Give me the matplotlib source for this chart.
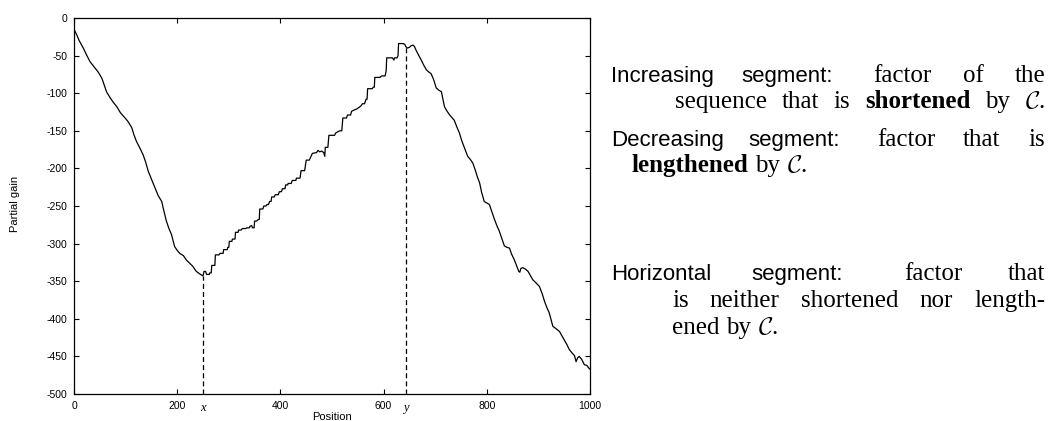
#!/usr/bin/env python3
# -*- coding: utf-8 -*-
"""
Partial gain 曲线 + 右侧说明文字
"""

import numpy as np
import matplotlib
matplotlib.use("Agg")
import matplotlib.pyplot as plt

W, H = 1050, 421

# 曲线数据
pos = [0, 5, 10, 18, 25, 31, 40, 47, 54, 58, 63, 70, 76, 83, 90, 99, 105, 112,
       116, 121, 127, 134, 139, 144, 150, 157, 163, 170, 174, 179, 184, 189,
       192, 195, 200, 205, 212, 218, 224, 230, 237, 243, 250,
       252, 255, 257, 262, 263, 266, 267, 273, 274, 281, 283, 289, 290, 297,
       298, 300, 301, 306, 307, 312, 313, 318, 319, 324, 326, 333, 335, 340,
       341, 344, 346, 349, 350, 354, 357, 359, 360, 366, 368, 372, 374, 377,
       379, 382, 383, 388, 390, 396, 398, 402, 404, 409, 410, 414, 415, 421,
       423, 430, 431, 438, 440, 447, 450, 456, 462, 470, 473, 476, 480, 484,
       486, 487, 492, 494, 505, 507, 512, 515, 519, 521, 528, 530, 536, 538,
       544, 548, 552, 556, 559, 563, 566, 568, 569, 578, 580, 582, 583, 593,
       596, 603, 605, 606, 617, 620, 621, 626, 628, 629, 638,
       641, 643, 646, 650, 653, 657, 660, 663, 666, 670, 673, 678, 683, 688,
       692, 697, 702, 707, 712, 715, 718, 723, 728, 733, 737, 742, 747, 750,
       753, 758, 763, 768, 773, 778, 782, 786, 790, 795, 800, 805, 810, 815,
       820, 824, 829, 834, 839, 844, 848, 853, 858, 862, 864, 866, 870, 875,
       880, 885, 889, 895, 902, 907, 912, 917, 921, 925, 928, 934, 941, 945,
       950, 955, 960, 966, 970, 973, 976, 979, 984, 989, 994, 997, 1000]
gain = [-15, -22, -30, -40, -50, -58, -66, -72, -80, -88, -98, -106, -112, -118,
        -126, -133, -138, -146, -155, -164, -172, -182, -192, -204, -214, -226,
        -236, -244, -256, -270, -280, -288, -296, -304, -309, -313, -316, -322,
        -326, -330, -337, -340, -343,
        -337, -337, -341, -341, -339, -339, -329, -329, -315, -315, -313, -313,
        -308, -308, -305, -305, -297, -297, -294, -294, -285, -285, -282, -282,
        -280, -280, -279, -279, -277, -276, -279, -279, -270, -270, -268, -268,
        -254, -254, -250, -250, -248, -248, -244, -244, -238, -238, -235, -235,
        -231, -231, -227, -227, -222, -222, -220, -220, -216, -216, -213, -213,
        -203, -203, -189, -189, -180, -179, -176, -178, -177, -179, -184, -172,
        -172, -156, -156, -153, -151, -150, -150, -133, -133, -129, -129, -124,
        -122, -121, -119, -117, -114, -114, -108, -108, -94, -94, -92, -92, -79,
        -79, -77, -77, -70, -53, -53, -56, -53, -53, -50, -34, -34,
        -35, -38, -40, -39, -37, -36, -38, -43, -47, -52, -56, -63, -69, -72,
        -74, -82, -93, -96, -98, -108, -118, -124, -129, -133, -136, -145, -153,
        -160, -166, -175, -184, -188, -193, -203, -212, -219, -232, -244, -246,
        -248, -258, -268, -277, -283, -293, -303, -305, -306, -314, -321, -330,
        -337, -338, -333, -332, -334, -337, -343, -348, -352, -357, -366, -377,
        -386, -392, -402, -410, -413, -417, -422, -428, -434, -441, -446, -449,
        -457, -452, -450, -454, -461, -462, -465, -467]

x_ticks = [0, 200, 400, 600, 800, 1000]
y_ticks = list(range(-500, 1, 50))
marks = [("x", 250), ("y", 643)]

plt.rcParams["mathtext.fontset"] = "cm"
plt.rcParams["axes.unicode_minus"] = False

fig = plt.figure(figsize=(W / 100, H / 100), dpi=100)
ax = fig.add_axes([74 / W, 1 - 394 / H, (590 - 74) / W, (394 - 18) / H])

ax.plot(pos, gain, color="black", lw=0.9)

# x, y 位置的竖虚线
for name, xm in marks:
    ym = np.interp(xm, pos, gain)
    ax.plot([xm, xm], [-500, ym], color="black", lw=0.9, ls=(0, (4, 2.5)))
    ax.text(xm, -0.022, name, transform=ax.get_xaxis_transform(),
            ha="center", va="top", family="Liberation Serif",
            style="italic", fontsize=9)

ax.set_xlim(0, 1000)
ax.set_ylim(-500, 0)
ax.set_xticks(x_ticks)
ax.set_yticks(y_ticks)
ax.tick_params(direction="in", top=True, right=True, length=3.5, width=0.8,
               labelsize=7.5, pad=5)
for lab in ax.get_xticklabels() + ax.get_yticklabels():
    lab.set_family("Liberation Sans")
for sp in ax.spines.values():
    sp.set_linewidth(0.9)

ax.text(0.5, -0.068, "Position", transform=ax.transAxes, ha="center",
        va="baseline", fontsize=8, family="Liberation Sans")
fig.text(15 / W, 1 - 204 / H, "Partial gain", rotation=90, ha="center",
         va="center", fontsize=8, family="Liberation Sans")

# 右侧说明文字（两端对齐，冒号后的空格稍宽）
sans = dict(family="Liberation Sans", fontsize=16)
serif = dict(family="Liberation Serif", fontsize=18)
bold = dict(serif, weight="bold")
C = r"$\mathcal{C}$."

lines = [
    (611, 82, True, [("Increasing", sans), ("segment:", sans), ("factor", serif),
                     ("of", serif), ("the", serif)]),
    (675, 108, True, [("sequence", serif), ("that", serif), ("is", serif),
                      ("shortened", bold), ("by", serif), (C, serif)]),
    (611, 146, True, [("Decreasing", sans), ("segment:", sans), ("factor", serif),
                      ("that", serif), ("is", serif)]),
    (632, 172, False, [("lengthened", bold), ("by", serif), (C, serif)]),
    (611, 280, True, [("Horizontal", sans), ("segment:", sans), ("factor", serif),
                      ("that", serif)]),
    (672, 307, True, [("is", serif), ("neither", serif), ("shortened", serif),
                      ("nor", serif), ("length-", serif)]),
    (672, 334, False, [("ened", serif), ("by", serif), (C, serif)]),
]

r = fig.canvas.get_renderer()


def put_line(x0, y, justify, words, right=1045):
    arts = [fig.text(0, 1 - y / H, s, ha="left", va="baseline", **kw)
            for s, kw in words]
    ws = [a.get_window_extent(r).width for a in arts]
    # 自然词距，冒号后稍宽
    gaps = []
    for s, kw in words[:-1]:
        g = 0.27 * kw["fontsize"] * 100 / 72
        gaps.append(g * 1.5 if s.endswith(":") else g)
    if justify:
        extra = right - x0 - sum(ws) - sum(gaps)
        tot = sum(gaps)
        gaps = [g + extra * g / tot for g in gaps]
    x = x0
    for i, (a, w) in enumerate(zip(arts, ws)):
        a.set_x(x / W)
        if i < len(gaps):
            x += w + gaps[i]


for x0, y, justify, words in lines:
    put_line(x0, y, justify, words)

fig.savefig("out.png", dpi=100)
